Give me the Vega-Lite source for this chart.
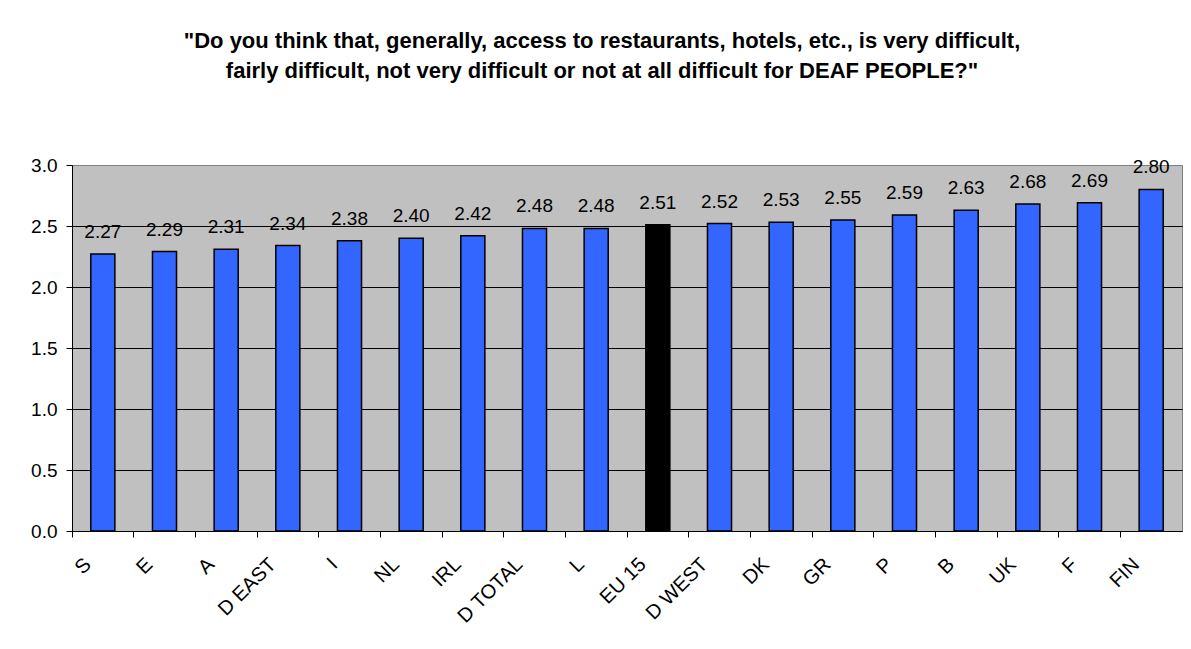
{
  "$schema": "https://vega.github.io/schema/vega-lite/v6.json",
  "width": 1110,
  "height": 366,
  "autosize": "none",
  "padding": {"left": 72, "top": 165, "right": 9, "bottom": 118},
  "background": "white",
  "title": {
    "text": ["\"Do you think that, generally, access to restaurants, hotels, etc., is very difficult,", "fairly difficult, not very difficult or not at all difficult for DEAF PEOPLE?\""],
    "font": "Liberation Sans",
    "fontSize": 22,
    "fontWeight": "bold",
    "color": "black",
    "anchor": "middle",
    "dx": -25,
    "offset": 73,
    "lineHeight": 30
  },
  "data": {
    "values": [
      {"country": "S", "value": 2.27, "group": "country"},
      {"country": "E", "value": 2.29, "group": "country"},
      {"country": "A", "value": 2.31, "group": "country"},
      {"country": "D EAST", "value": 2.34, "group": "country"},
      {"country": "I", "value": 2.38, "group": "country"},
      {"country": "NL", "value": 2.40, "group": "country"},
      {"country": "IRL", "value": 2.42, "group": "country"},
      {"country": "D TOTAL", "value": 2.48, "group": "country"},
      {"country": "L", "value": 2.48, "group": "country"},
      {"country": "EU 15", "value": 2.51, "group": "EU"},
      {"country": "D WEST", "value": 2.52, "group": "country"},
      {"country": "DK", "value": 2.53, "group": "country"},
      {"country": "GR", "value": 2.55, "group": "country"},
      {"country": "P", "value": 2.59, "group": "country"},
      {"country": "B", "value": 2.63, "group": "country"},
      {"country": "UK", "value": 2.68, "group": "country"},
      {"country": "F", "value": 2.69, "group": "country"},
      {"country": "FIN", "value": 2.80, "group": "country"}
    ]
  },
  "config": {
    "view": {"fill": "#C0C0C0", "stroke": "#808080", "strokeWidth": 1},
    "axis": {"labelFont": "Liberation Sans", "labelFontSize": 19, "labelColor": "black", "domainColor": "black", "tickColor": "black", "domainWidth": 1, "tickWidth": 1}
  },
  "encoding": {
    "x": {
      "field": "country",
      "type": "nominal",
      "sort": null,
      "scale": {"paddingInner": 0, "paddingOuter": 0},
      "axis": {"title": null, "labelAngle": -45, "labelAlign": "right", "labelBaseline": "middle", "labelFontSize": 20, "bandPosition": 0, "tickSize": 6, "labelPadding": 24, "labelOffset": -15}
    },
    "y": {
      "field": "value",
      "type": "quantitative",
      "scale": {"domain": [0, 3], "nice": false},
      "axis": {
        "title": null,
        "values": [0, 0.5, 1, 1.5, 2, 2.5, 3],
        "format": ".1f",
        "grid": true,
        "gridColor": {"condition": {"test": "datum.value === 3", "value": "#808080"}, "value": "black"},
        "gridWidth": 1,
        "tickSize": 6,
        "labelPadding": 9
      }
    }
  },
  "layer": [
    {
      "mark": {"type": "bar", "width": {"band": 0.39}, "stroke": "black", "strokeWidth": 1.5},
      "encoding": {
        "color": {"field": "group", "type": "nominal", "scale": {"domain": ["country", "EU"], "range": ["#3366FF", "#000000"]}, "legend": null}
      }
    },
    {
      "mark": {"type": "text", "dy": -16, "baseline": "alphabetic", "font": "Liberation Sans", "fontSize": 19, "color": "black"},
      "encoding": {
        "text": {"field": "value", "type": "quantitative", "format": ".2f"}
      }
    }
  ]
}
